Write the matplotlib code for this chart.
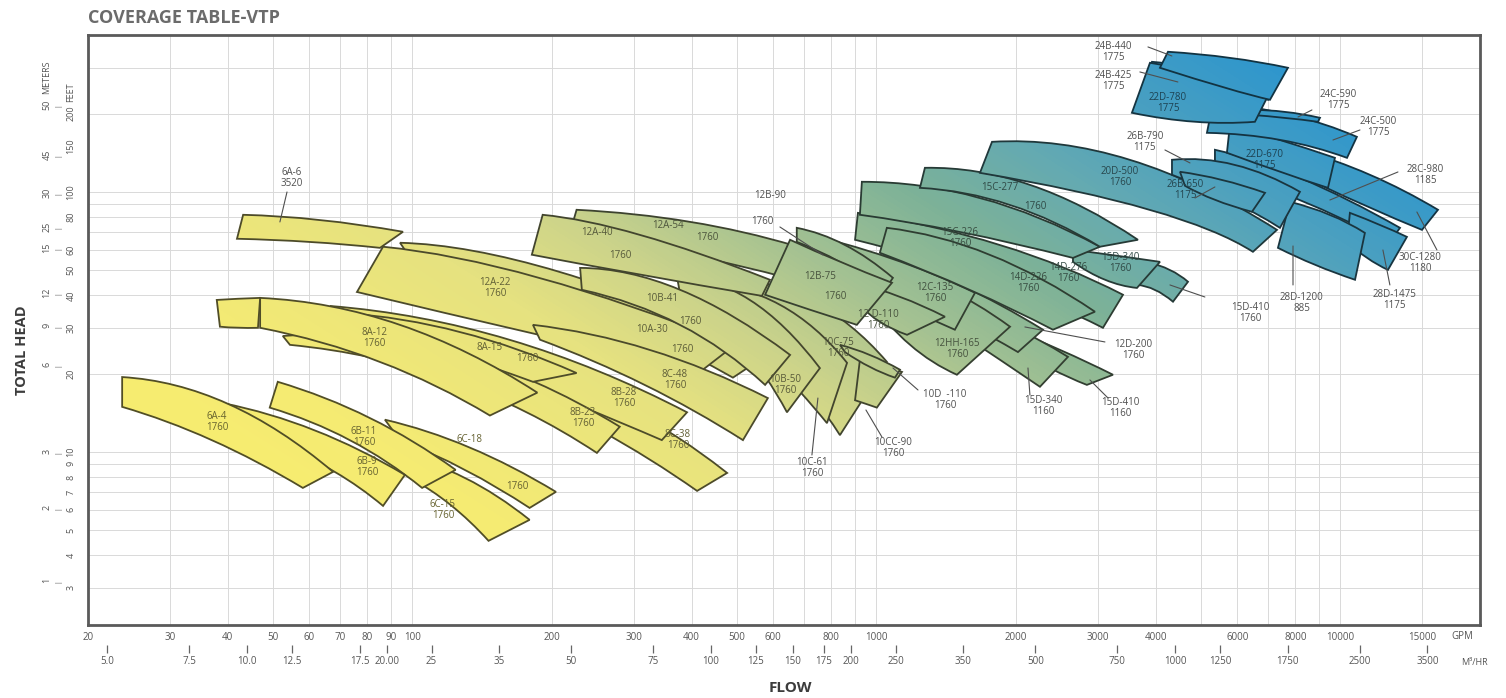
import numpy as np
import matplotlib
matplotlib.use("Agg")
import matplotlib.pyplot as plt
from matplotlib.path import Path
from matplotlib.patches import PathPatch
from matplotlib.colors import LinearSegmentedColormap
from matplotlib.ticker import LogLocator, NullLocator, NullFormatter
from matplotlib import transforms

plt.rcParams['font.family'] = ['Open Sans', 'DejaVu Sans']

# ---- coverage bands, listed back to front ----
models = ['10A-30', '12A-22', '10C-75', '10C-61', '10B-50', '10B-41', '8C-48', '8C-38',
          '8B-28', '8B-23', '8A-15', '8A-12', '8A-12b', '6A-6', '6C-18', '6C-15', '6B-11',
          '6B-9', '6A-4', '12A-54', '12A-40', '10CC-90', '10D-110', '15D-410', '15D-340',
          '12D-200', '12HH-165', '12C-135', '12D-110', '12B-90', '12B-75', '14D-276',
          '14D-226', '15D-410', '15D-340', '15C-226', '15C-277', '20D-500', '26B-x',
          '28C-980', '28D-1475', '28D-1200', '26B-790', '26B-650', '22D-670', '24C-500',
          '24C-590', '24B-425', '22D-780', '24B-440']
rpm = [1760, 1760, 1760, 1760, 1760, 1760, 1760, 1760, 1760, 1760, 1760, 1760, 1760, 3520,
       1760, 1760, 1760, 1760, 1760, 1760, 1760, 1760, 1760, 1160, 1160, 1760, 1760, 1760,
       1760, 1760, 1760, 1760, 1760, 1760, 1760, 1760, 1760, 1760, 1175, 1185, 1175, 885,
       1175, 1175, 1175, 1775, 1775, 1775, 1775, 1775]

# top edge of each band: flow (GPM) and head (ft) at left, middle, right
top_gpm = [(94.1, 208, 590), (86.5, 188, 496), (460, 720, 1054), (417, 620, 865),
           (372, 534, 756), (230, 378, 652), (182, 325, 584), (147, 267, 477),
           (66.5, 162, 391), (52.6, 121, 280), (71.6, 127, 226), (47.0, 94.1, 186),
           (37.9, 42.1, 47.0), (43.2, 63.2, 95.5), (87.3, 133, 204), (94.1, 130, 179),
           (51.3, 81.1, 124), (39.1, 61.7, 96.4), (23.7, 40.1, 67.5), (226, 397, 668),
           (191, 310, 590), (922, 1018, 1136), (835, 969, 1125), (1848, 2488, 3237),
           (1441, 1942, 2589), (1018, 1514, 2287), (922, 1372, 1942), (674, 1070, 1632),
           (900, 1125, 1406), (674, 856, 1086), (652, 835, 1081), (913, 1848, 3402),
           (1054, 1758, 2960), (3831, 4295, 4697), (2654, 3189, 4087), (931, 1673, 3034),
           (1273, 2144, 3664), (1776, 3522, 7304), (5369, 8186, 13450), (8186, 11590, 16240),
           (10490, 12170, 13920), (7790, 9502, 11300), (4338, 5929, 8186), (4514, 5559, 6883),
           (5784, 7413, 9739), (5316, 7790, 10860), (6387, 7600, 9041), (3928, 5290, 7056),
           (3889, 5237, 7056), (4253, 5784, 7713)]
top_ft = [(63.7, 49.2, 24.0), (61.5, 46.7, 25.8), (46.7, 38.4, 22.2), (44.7, 36.8, 22.0),
          (47.1, 38.4, 21.0), (51.0, 42.0, 23.6), (30.8, 24.7, 16.1), (21.6, 15.8, 8.30),
          (36.4, 27.0, 14.2), (27.9, 24.2, 12.5), (34.2, 28.9, 20.1), (39.1, 30.8, 16.9),
          (38.4, 38.8, 39.1), (81.6, 78.0, 70.2), (13.3, 10.4, 7.02), (9.74, 7.94, 5.48),
          (18.6, 13.5, 8.53), (15.4, 12.1, 8.16), (19.4, 15.3, 8.38), (85.3, 76.7, 62.0),
          (81.6, 68.3, 45.9), (22.6, 21.6, 20.3), (25.8, 23.6, 20.7), (30.8, 24.7, 19.8),
          (38.4, 30.8, 23.2), (57.3, 43.9, 29.5), (57.3, 43.9, 30.3), (70.2, 55.7, 40.9),
          (44.7, 39.5, 33.1), (72.7, 62.5, 46.7), (65.4, 53.8, 44.7), (83.0, 62.5, 40.2),
          (72.7, 57.3, 34.6), (53.8, 50.1, 45.1), (59.8, 57.3, 53.8), (109.3, 94.8, 61.5),
          (123.7, 106.4, 65.4), (155.7, 132.8, 71.4), (145.1, 113.2, 72.7), (145.1, 116.3, 85.3),
          (83.0, 74.7, 67.1), (91.5, 81.6, 69.5), (132.8, 127.0, 100.0), (119.4, 111.2, 99.1),
          (181.0, 158.5, 135.1), (219.9, 197.8, 162.7), (206.8, 203.1, 192.6), (316.2, 289.3, 242.4),
          (313.4, 281.8, 242.4), (345.6, 327.7, 299.9)]
# bottom edge of each band: left, middle, right
bot_gpm = [(96.4, 219, 491), (76.0, 179, 417), (484, 685, 835), (427, 590, 783),
           (378, 509, 642), (232, 378, 576), (188.5, 317, 516), (151, 254, 411),
           (71.6, 154.5, 345), (54.5, 121, 250), (83.1, 124, 182), (47.0, 85.2, 147),
           (38.5, 42.1, 46.5), (41.9, 60.2, 85.2), (94.1, 130, 179), (98.9, 121, 146),
           (49.3, 73.4, 105), (51.9, 68.1, 86.5), (23.7, 37.0, 58.1), (219, 397, 642),
           (181, 310, 567), (900, 950, 1003), (856, 969, 1097), (1942, 2368, 2844),
           (1477, 1848, 2253), (1070, 1514, 2020), (969, 1182, 1492), (795, 1070, 1477),
           (922, 1018, 1165), (674, 835, 1044), (576, 720, 908), (900, 1758, 3080),
           (1018, 1592, 2403), (3646, 3987, 4360), (2654, 3111, 3646), (922, 1514, 2654),
           (1242, 1942, 3034), (1673, 3889, 6483), (5369, 8186, 12790), (9041, 11590, 15000),
           (10340, 11420, 12670), (7340, 8820, 10760), (4338, 5784, 7413), (4627, 5369, 6451),
           (5698, 7413, 9408), (5160, 7413, 10340), (6387, 7600, 8952), (3831, 5237, 6986),
           (3556, 4862, 6547), (4087, 5642, 7056)]
bot_ft = [(59.8, 38.4, 19.3), (41.2, 28.7, 20.3), (40.2, 18.9, 11.6), (38.4, 22.6, 12.9),
          (40.2, 25.8, 14.2), (42.0, 30.8, 18.1), (27.0, 18.1, 11.1), (18.9, 12.1, 7.08),
          (31.6, 19.8, 11.1), (25.8, 18.9, 9.91), (29.5, 23.6, 18.6), (30.0, 22.2, 13.8),
          (30.3, 30.0, 30.0), (66.0, 64.2, 60.9), (11.1, 8.53, 6.09), (7.94, 6.25, 4.55),
          (14.8, 11.1, 7.27), (10.6, 8.38, 6.20), (14.9, 11.1, 7.27), (70.2, 57.3, 46.7),
          (57.3, 48.0, 39.8), (15.8, 15.3, 14.8), (24.2, 21.2, 19.3), (25.8, 21.0, 18.1),
          (29.5, 22.6, 17.8), (43.9, 32.2, 24.2), (38.4, 25.8, 19.8), (50.1, 38.4, 29.5),
          (36.8, 31.6, 28.2), (64.2, 53.8, 42.0), (40.2, 35.2, 30.8), (65.4, 45.9, 30.0),
          (58.3, 42.0, 29.5), (43.9, 42.0, 37.8), (53.8, 45.9, 42.7), (81.6, 70.2, 55.7),
          (103.6, 89.1, 61.5), (118.3, 85.3, 58.8), (123.7, 93.1, 64.2), (106.4, 86.8, 71.4),
          (64.2, 55.7, 50.1), (60.9, 52.4, 45.9), (116.3, 93.1, 72.7), (105.5, 93.1, 83.8),
          (141.3, 119.4, 103.6), (168.6, 158.5, 135.1), (197.8, 192.6, 185.9), (279.3, 257.9, 225.9),
          (201.3, 185.9, 185.9), (299.9, 251.2, 225.9)]

# axis labels
gpm_ticks = [20, 30, 40, 50, 60, 70, 80, 90, 100, 200, 300, 400, 500, 600, 800, 1000,
             2000, 3000, 4000, 6000, 8000, 10000, 15000]
m3h_ticks = [5.0, 7.5, 10.0, 12.5, 17.5, 20.0, 25, 35, 50, 75, 100, 125, 150, 175, 200,
             250, 350, 500, 750, 1000, 1250, 1750, 2500, 3500]
m3h_labels = ['5.0', '7.5', '10.0', '12.5', '17.5', '20.00', '25', '35', '50', '75', '100',
              '125', '150', '175', '200', '250', '350', '500', '750', '1000', '1250', '1750',
              '2500', '3500']
feet_ticks = [3, 4, 5, 6, 7, 8, 9, 10, 20, 30, 40, 50, 60, 80, 100, 150, 200]
meter_labels = ['1', '2', '3', '6', '9', '12', '15', '25', '30', '45', '50']
meter_at_ft = [3.2, 6.1, 10, 21.6, 30.6, 40.9, 60.9, 73.2, 99, 139, 216]

# model labels: text, position in axes fraction, drawn inside a band?
labels = [
    ('6A-6\n3520', .1466, .7576, False), ('12A-22\n1760', .2924, .5712, True),
    ('8A-12\n1760', .2055, .4864, True), ('8A-15', .2888, .4695, True), ('1760', .3154, .4525, True),
    ('6A-4\n1760', .0927, .3441, True), ('6B-11\n1760', .1983, .3186, True),
    ('6B-9\n1760', .2004, .2678, True), ('6C-18', .2744, .3136, True), ('1760', .3082, .2339, True),
    ('6C-15\n1760', .2550, .1949, True), ('8B-23\n1760', .3556, .3508, True),
    ('8B-28\n1760', .3851, .3847, True), ('8C-38\n1760', .4239, .3136, True),
    ('8C-48\n1760', .4217, .4153, True), ('10A-30', .4052, .5000, True), ('1760', .4267, .4661, True),
    ('10B-41', .4124, .5542, True), ('1760', .4325, .5136, True),
    ('12A-40', .3657, .6644, True), ('1760', .3822, .6254, True),
    ('12A-54', .4167, .6763, True), ('1760', .4447, .6559, True),
    ('12B-90', .4899, .7271, False), ('1760', .4842, .6831, False),
    ('12B-75', .5259, .5898, True), ('1760', .5366, .5559, True),
    ('10C-75\n1760', .5388, .4695, True), ('10B-50\n1760', .5007, .4068, True),
    ('10C-61\n1760', .5201, .2661, False), ('10CC-90\n1760', .5783, .3000, False),
    ('10D  -110\n1760', .6157, .3814, False), ('12 D-110\n1760', .5675, .5169, True),
    ('12C-135\n1760', .6085, .5627, True), ('12HH-165\n1760', .6243, .4678, True),
    ('12D-200\n1760', .7507, .4661, False), ('15D-340\n1160', .6861, .3712, False),
    ('15D-410\n1160', .7414, .3678, False), ('14D-226\n1760', .6753, .5797, True),
    ('14D-276\n1760', .7040, .5966, True), ('15C-226\n1760', .6264, .6559, True),
    ('15C-277', .6552, .7407, True), ('1760', .6803, .7085, True),
    ('15D-340\n1760', .7414, .6136, True), ('15D-410\n1760', .8348, .5288, False),
    ('20D-500\n1760', .7414, .7593, True), ('26B-650\n1175', .7881, .7373, True),
    ('26B-790\n1175', .7593, .8186, False), ('22D-670\n1175', .8455, .7881, True),
    ('28C-980\n1185', .9605, .7627, False), ('30C-1280\n1180', .9569, .6136, False),
    ('28D-1200\n885', .8721, .5458, False), ('28D-1475\n1175', .9389, .5508, False),
    ('24C-590\n1775', .8980, .8898, False), ('24C-500\n1775', .9267, .8441, False),
    ('22D-780\n1775', .7759, .8847, True), ('24B-425\n1775', .7364, .9220, False),
    ('24B-440\n1775', .7364, .9712, False),
]
# leader lines: from label to band, axes fraction
leaders = [
    (.1430, .7339, .1379, .6831), (.4971, .6746, .5280, .6271), (.5201, .2881, .5244, .3847),
    (.5704, .3186, .5589, .3644), (.5963, .3983, .5783, .4356), (.7306, .4797, .6731, .5051),
    (.6767, .3898, .6753, .4356), (.7328, .3847, .7198, .4153), (.8024, .5559, .7773, .5763),
    (.7953, .7237, .8096, .7424), (.7737, .8051, .7917, .7831), (.9411, .7678, .8922, .7203),
    (.9691, .6356, .9547, .7000), (.8657, .5763, .8657, .6424), (.9353, .5763, .9303, .6356),
    (.8793, .8729, .8693, .8610), (.9138, .8390, .8944, .8220), (.7557, .9373, .7830, .9203),
    (.7615, .9797, .7787, .9644),
]

stops = [(0.0, '#faf06a'), (0.25, '#f5eb73'), (0.40, '#e6e280'), (0.48, '#cdd48a'),
         (0.56, '#a5c292'), (0.65, '#7db298'), (0.73, '#64aab2'), (0.80, '#4ba0c0'),
         (0.90, '#2d96ce'), (1.0, '#238ccd')]
cmap = LinearSegmentedColormap.from_list('coverage', stops)


def band_path(tq, th, bq, bh):
    # quadratic curves drawn in log space, passing through the middle points
    lt = np.log10(np.column_stack([tq, th]))
    lb = np.log10(np.column_stack([bq, bh]))
    ct = 2 * lt[1] - (lt[0] + lt[2]) / 2
    cb = 2 * lb[1] - (lb[0] + lb[2]) / 2
    verts = 10 ** np.array([lt[0], ct, lt[2], lb[2], cb, lb[0], lt[0]])
    codes = [Path.MOVETO, Path.CURVE3, Path.CURVE3, Path.LINETO,
             Path.CURVE3, Path.CURVE3, Path.CLOSEPOLY]
    return Path(verts, codes)


fig = plt.figure(figsize=(15.06, 6.98), dpi=100)
fig.patch.set_facecolor('white')
ax = fig.add_axes([0.0584, 0.1046, 0.9243, 0.8453])
ax.set_xscale('log')
ax.set_yscale('log')
ax.set_xlim(20, 20000)
ax.set_ylim(2.16, 401)
ax.autoscale(False)

# grid
ax.set_xticks(gpm_ticks)
ax.set_xticklabels([str(v) for v in gpm_ticks])
ax.xaxis.set_minor_locator(LogLocator(base=10, subs=np.arange(2, 10)))
ax.xaxis.set_minor_formatter(NullFormatter())
ax.yaxis.set_major_locator(LogLocator(base=10))
ax.yaxis.set_minor_locator(LogLocator(base=10, subs=np.arange(2, 10)))
ax.grid(True, which='both', color='#d9d9d9', lw=0.7)
ax.set_axisbelow(True)
ax.tick_params(axis='x', which='both', length=0, labelsize=7, labelcolor='#555555', pad=5)
ax.tick_params(axis='y', which='both', length=0, labelleft=False)
for s in ax.spines.values():
    s.set_color('#5a5a5a')
    s.set_linewidth(2)

gx, gy = np.meshgrid(np.linspace(0, 1, 300), np.linspace(0, 1, 150))
grad = 0.6 * gx + 0.4 * gy
to_axes = ax.transData + ax.transAxes.inverted()

for i in range(len(models)):
    path = band_path(top_gpm[i], top_ft[i], bot_gpm[i], bot_ft[i])
    cx, cy = to_axes.transform(path.vertices[[0, 2, 3, 5]]).mean(axis=0)
    edge = np.array(cmap(0.6 * cx + 0.4 * cy)[:3]) * 0.33
    z = 2 + 2 * i
    patch = PathPatch(path, facecolor='none', edgecolor=edge, lw=1.3, zorder=z + 1)
    ax.add_patch(patch)
    im = ax.imshow(grad, cmap=cmap, vmin=0, vmax=1, extent=(0, 1, 0, 1),
                   transform=ax.transAxes, origin='lower', aspect='auto',
                   interpolation='bilinear', zorder=z)
    im.set_clip_path(patch)

for text, fx, fy, inside in labels:
    if inside:
        col = np.array(cmap(0.6 * fx + 0.4 * fy)[:3]) * 0.42
    else:
        col = '#4f4f4f'
    ax.text(fx, fy, text, transform=ax.transAxes, ha='center', va='center',
            fontsize=7, color=col, linespacing=1.0, zorder=300)
for x0, y0, x1, y1 in leaders:
    ax.annotate('', xy=(x1, y1), xytext=(x0, y0), xycoords='axes fraction',
                textcoords='axes fraction', zorder=300,
                arrowprops=dict(arrowstyle='-', color='#4f4f4f', lw=0.8,
                                shrinkA=0, shrinkB=0))

# second flow scale in m3/hr
sec = ax.secondary_xaxis(-0.04, functions=(lambda q: q / 4.403, lambda m: m * 4.403))
sec.set_xticks(m3h_ticks, labels=m3h_labels)
sec.xaxis.set_minor_locator(NullLocator())
sec.spines['bottom'].set_visible(False)
sec.tick_params(axis='x', direction='inout', length=6, width=0.9, color='#666666',
                labelsize=7, labelcolor='#555555', pad=2)
ax.text(0.987, -0.0203, 'GPM', transform=ax.transAxes, ha='center', va='center',
        fontsize=7, color='#555555')
ax.text(0.9964, -0.0644, 'M³/HR', transform=ax.transAxes, ha='center', va='center',
        fontsize=6.5, color='#555555')

# head scales on the left (feet and meters)
ylab = transforms.blended_transform_factory(ax.transAxes, ax.transData)
for v in feet_ticks:
    ax.text(-0.0122, v, str(v), transform=ylab, rotation=90, ha='center', va='center',
            fontsize=6.5, color='#555555', clip_on=False)
ax.text(-0.0122, 222, 'FEET', transform=ylab, rotation=90, ha='center', va='bottom',
        fontsize=6.5, color='#555555', clip_on=False)
for lab, v in zip(meter_labels, meter_at_ft):
    ax.text(-0.0295, v, lab, transform=ylab, rotation=90, ha='center', va='center',
            fontsize=6.5, color='#555555', clip_on=False)
    ax.text(-0.0216, v, '|', transform=ylab, rotation=90, ha='center', va='center',
            fontsize=5, color='#555555', clip_on=False)
ax.text(-0.0295, 238, 'METERS', transform=ylab, rotation=90, ha='center', va='bottom',
        fontsize=6.5, color='#555555', clip_on=False)

fig.text(88 / 1506, 1 - 18 / 698, 'COVERAGE TABLE-VTP', fontsize=13, fontweight='bold',
         color='#6b6b6b', ha='left', va='center')
fig.text(22 / 1506, 1 - 350 / 698, 'TOTAL HEAD', rotation=90, fontsize=10.5,
         fontweight='bold', color='#3c3c3c', ha='center', va='center')
fig.text(790 / 1506, 1 - 688 / 698, 'FLOW', fontsize=11, fontweight='bold',
         color='#3c3c3c', ha='center', va='center')

fig.savefig('out.png', dpi=100)
